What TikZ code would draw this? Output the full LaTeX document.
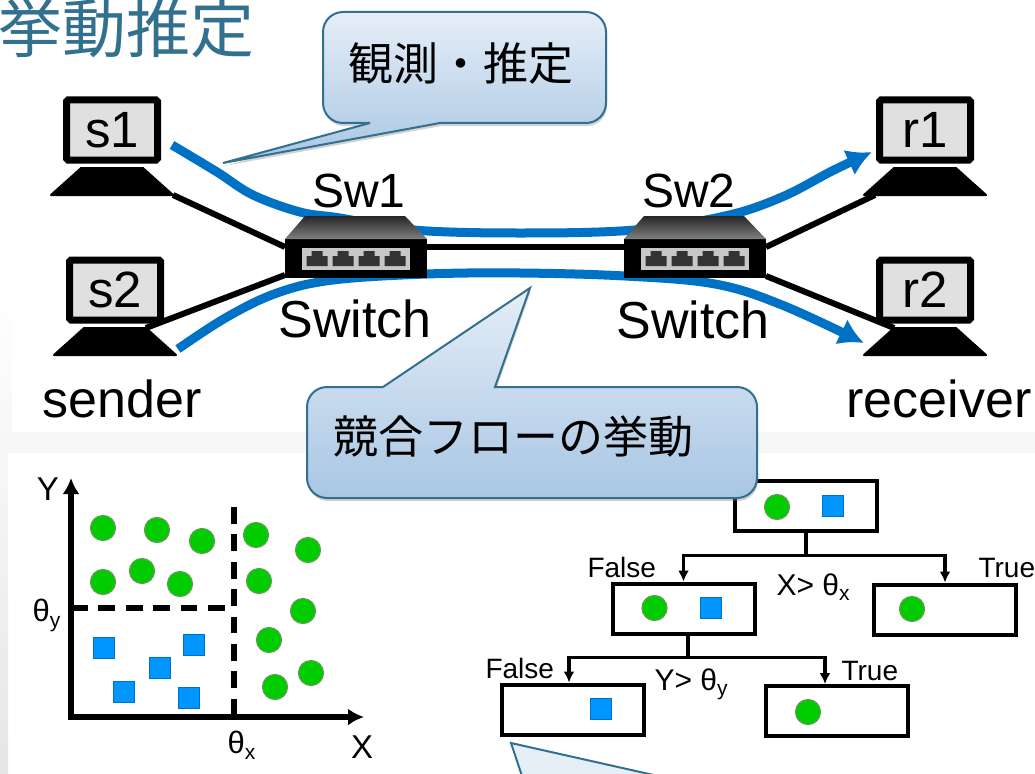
\documentclass[tikz,border=0pt]{standalone}
\usepackage{fontspec}
\setmainfont{Liberation Sans}
\newfontfamily\cjk{Noto Sans CJK JP}
\usetikzlibrary{calc,positioning,arrows.meta,shapes.geometric,shadows}
\newcommand{\fsz}[1]{\fontsize{#1}{#1}\selectfont}
\definecolor{flowblue}{HTML}{0072C6}
\definecolor{dotgreen}{HTML}{00CC00}
\definecolor{dotedge}{HTML}{5E9E50}
\definecolor{sqblue}{HTML}{0096FF}
\definecolor{sqedge}{HTML}{0070C8}
\definecolor{calloutline}{HTML}{31708F}
\definecolor{calloutlight}{HTML}{E6EEF8}
\definecolor{calloutdark}{HTML}{A8C6E3}
\tikzset{
  screen/.style={draw=black,line width=7pt,fill=black!12,rounded corners=1.5pt,inner sep=0pt,
    minimum width=91pt,minimum height=60pt,font=\fsz{51}},
  lapbase/.style={trapezium,draw=black,line width=2pt,line join=round,fill=black,inner sep=1pt,outer sep=0pt,
    trapezium stretches=true,trapezium left angle=64,trapezium right angle=64,
    minimum width=122pt,minimum height=27pt},
  swbody/.style={fill=black,inner sep=0pt,outer sep=0pt,minimum width=142pt,minimum height=39pt},
  swpanel/.style={fill=black!22,inner sep=0pt,minimum width=108pt,minimum height=22pt},
  link/.style={line width=6pt},
  flow/.style={line width=9pt,flowblue},
  netlabel/.style={anchor=base,font=\fsz{52}},
  dot/.style={circle,fill=dotgreen,draw=dotedge,line width=1.2pt,inner sep=0pt,minimum size=25pt},
  sq/.style={rectangle,fill=sqblue,draw=sqedge,line width=1.5pt,inner sep=0pt,minimum size=21pt},
  treebox/.style={draw=black,line width=4pt,fill=white,inner sep=0pt,minimum width=142pt,minimum height=50pt},
  treeline/.style={line width=3.2pt,-{Latex[length=11pt,width=11pt]}},
  small/.style={anchor=base west,font=\fsz{28}},
  balloonpath/.style={draw=calloutline,line width=2pt,top color=calloutlight,bottom color=calloutdark,
    drop shadow={shadow xshift=1pt,shadow yshift=-3pt,opacity=.35}},
  balloon/.style={font=\cjk\fsz{45},inner sep=0pt},
}
\begin{document}
\begin{tikzpicture}[x=1pt,y=-1pt]
    \clip (0,0) rectangle (1035,773);
    \fill[white] (0,0) rectangle (1035,773);

    % Page background
    \fill[black!3] (0,432) rectangle (1035,453);
    \shade[top color=black!3,bottom color=black!10] (0,453) rectangle (8,773);
    \shade[top color=white,bottom color=black!3] (0,290) rectangle (12,432);

    % Title
    \node[font=\cjk\fsz{64},text=calloutline,anchor=east,inner sep=0pt] (title) at (255,28) {挙動推定};

    % Flows
    \coordinate (f1start) at (172,145);
    \coordinate (f1end) at (872,152);
    \coordinate (f2start) at (178,349);
    \coordinate (f2end) at (864,343);
    \draw[flow,-{Latex[length=25pt,width=28pt]}] plot[smooth,tension=.6] coordinates {(f1start) (217,172) (253,195) (300,212) (340,218) (413,230) (520,233) (635,230) (725,216) (782,197) (832,171) (f1end)};
    \draw[flow,-{Latex[length=25pt,width=28pt]}] plot[smooth,tension=.6] coordinates {(f2start) (227,317) (277,293) (333,280) (427,274) (520,273) (625,276) (715,284) (782,305) (f2end)};

    % Hosts
    \node[screen] (s1) at (112,130) {s1};
    \node[screen] (s2) at (115,290) {s2};
    \node[screen] (r1) at (925,130) {r1};
    \node[screen] (r2) at (925,290) {r2};
    \foreach \host in {s1,s2,r1,r2}
        \node[lapbase,below=4.5pt of \host] (\host b) {};

    % Switches
    \node[swbody] (sw1) at (356,258.5) {};
    \node[swbody] (sw2) at (695,258.5) {};
    \foreach \sw in {sw1,sw2} {
        \shade[top color=black!85,bottom color=black!50] (\sw.north west) -- ++(20,-23) -- ++(100,0) -- (\sw.north east) -- cycle;
        \node[swpanel] (\sw panel) at (\sw) {};
        \foreach \dx in {-39,-13,13,39}
            \fill[black!80] ($(\sw)+(\dx-10.5,7.5)$) -- ++(0,-10) -- ++(5,0) -- ++(0,-5) -- ++(11,0) -- ++(0,5) -- ++(5,0) -- ++(0,10) -- cycle;
    }

    % Links
    \draw[link] (s1b.bottom right corner) -- ([yshift=-8pt]sw1.north west);
    \draw[link] (s2b.top right corner) -- ([yshift=3pt]sw1.south west);
    \draw[link,line width=6.5pt] ([yshift=-8pt]sw1.north east) -- ([yshift=-8pt]sw2.north west);
    \draw[link] ([yshift=-8pt]sw2.north east) -- ([xshift=11pt]r1b.bottom left corner);
    \draw[link] ([yshift=2pt]sw2.south east) -- (r2b.top left corner);

    % Network labels
    \node[netlabel,font=\fsz{48}] (sw1name) at (359,207) {Sw1};
    \node[netlabel,font=\fsz{48}] (sw2name) at (689,207) {Sw2};
    \node[netlabel] (sw1kind) at (355,337) {Switch};
    \node[netlabel] (sw2kind) at (693,338) {Switch};
    \node[netlabel] (sender) at (122,417) {sender};
    \node[netlabel] (receiver) at (939,417) {receiver};

    % Scatter axes
    \coordinate (origin) at (71,717);
    \coordinate (ytip) at (71,478);
    \coordinate (xtip) at (364,717);
    \draw[line width=6pt,-{Latex[length=16pt,width=17pt]}] (origin) -- (ytip);
    \draw[line width=6pt,-{Latex[length=16pt,width=17pt]}] ([xshift=-3pt]origin) -- (xtip);
    \node[anchor=base,font=\fsz{33}] (ylabel) at (48,500) {Y};
    \node[anchor=base,font=\fsz{33}] (xlabel) at (362,758) {X};
    \node[small,font=\fsz{31}] (thetay) at (29,621) {θ{\fsz{21}\raisebox{-6pt}{y}}};
    \node[small,font=\fsz{31}] (thetax) at (224,753) {θ{\fsz{21}\raisebox{-6pt}{x}}};

    % Thresholds
    \coordinate (xcut) at (234,507);
    \coordinate (ycut) at (71,608);
    \draw[line width=5.5pt,dash pattern=on 16.7pt off 10.7pt] (xcut) -- (xcut |- origin);
    \draw[line width=5.5pt,dash pattern=on 16.7pt off 10.7pt] (ycut) -- (225,608);

    % Samples
    \foreach \px/\py [count=\i] in {103/528,157/530,202/541,256/535,308/550,103/582,142/571,180/584,259/581,303/611,269/640,311/673,275/687}
        \node[dot] (c\i) at (\px,\py) {};
    \foreach \px/\py [count=\i] in {104/648,194/645,160/668,124/692,189/698}
        \node[sq] (q\i) at (\px,\py) {};

    % Decision tree
    \node[treebox] (root) at (805.5,505.5) {};
    \node[treebox] (nl) at (683.5,608.5) {};
    \node[treebox] (nr) at (945,609.5) {};
    \node[treebox] (nll) at (573,709.5) {};
    \node[treebox] (nlr) at (837,711) {};
    \draw[treeline] (root.south) -- ++(0,23) -| (nl.north);
    \draw[treeline] (root.south) -- ++(0,23) -| (nr.north);
    \draw[line width=4pt] (root.south) -- ++(0,22);
    \draw[treeline] ([xshift=4.5pt]nl.south) -- ++(0,22) -| ([xshift=-4pt]nll.north);
    \draw[treeline] ([xshift=4.5pt]nl.south) -- ++(0,22) -| ([xshift=-12pt]nlr.north);
    \draw[line width=4pt] ([xshift=4.5pt]nl.south) -- ++(0,21);

    \node[dot] (rootdot) at (777,507) {};
    \node[sq] (rootsq) at (833,506) {};
    \node[dot] (nldot) at (654.5,608) {};
    \node[sq] (nlsq) at (711,608) {};
    \node[dot] (nrdot) at (912,609) {};
    \node[sq] (nllsq) at (601,709) {};
    \node[dot] (nlrdot) at (808,712) {};

    \node[small] (false1) at (584,577) {False};
    \node[small] (true1) at (975,577) {True};
    \node[small] (false2) at (482,678) {False};
    \node[small] (true2) at (838,680) {True};
    \node[small,font=\fsz{30}] (xtest) at (773,595) {X> θ{\fsz{21}\raisebox{-5pt}{x}}};
    \node[small,font=\fsz{30}] (ytest) at (651,690) {Y> θ{\fsz{21}\raisebox{-5pt}{y}}};

    % Callouts
    \draw[balloonpath] (370,123) -- (223,163) -- (440,123) [rounded corners=20pt] -- (606,123) -- (606,12) -- (323,12) -- (323,123) -- (370,123);
    \node[balloon] (observe) at (461,63) {観測・推定};
    \draw[balloonpath] (383,387) -- (530,288) -- (495,387) [rounded corners=20pt] -- (757,387) -- (757,498) -- (307,498) -- (307,387) -- (383,387);
    \node[balloon] (behavior) at (513,437) {競合フローの挙動};
    \draw[draw=calloutline,line width=2pt,fill=calloutlight] (511,743) -- (522,776) -- (658,776) -- cycle;
\end{tikzpicture}
\end{document}
